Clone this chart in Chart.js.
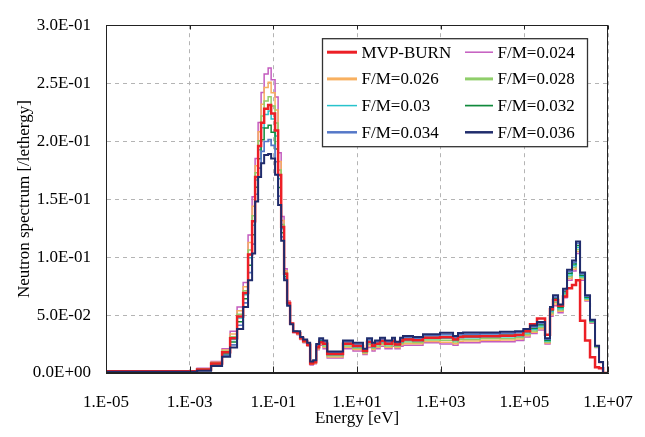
<!DOCTYPE html>
<html><head><meta charset="utf-8">
<script src="https://cdn.jsdelivr.net/npm/chart.js@4.4.1/dist/chart.umd.min.js"></script>
<style>html,body{margin:0;padding:0;background:#fff;}canvas{display:block;}</style>
</head><body>
<canvas id="c" width="645" height="437"></canvas>
<script>
// Energy group boundaries [eV] (lower edges of each group, last entry = top edge)
const energyEdges = [1e-5, 1.5e-3, 3.25e-3, 5.96e-3, 9.27e-3, 1.36e-2, 1.90e-2, 2.49e-2, 3.11e-2, 3.67e-2,
  4.33e-2, 5.10e-2, 6.03e-2, 7.52e-2, 8.86e-2, 0.110, 0.130, 0.154, 0.181, 0.214,
  0.252, 0.298, 0.371, 0.438, 0.516, 0.644, 0.759, 0.895, 1.06, 1.25,
  1.55, 1.94, 4.63, 8.03, 13.9, 17.4, 22.9, 27.0, 35.5, 46.8,
  68.7, 81.1, 107, 126, 218, 378, 966, 1977, 2600, 3428,
  8730, 2.62e4, 6.0e4, 9.47e4, 1.37e5, 2.01e5, 3.13e5, 4.11e5, 4.85e5, 6.40e5,
  8.42e5, 1.05e6, 1.38e6, 1.72e6, 2.15e6, 2.83e6, 3.72e6, 4.90e6, 6.11e6, 7.62e6, 1e7];

const seriesLabels = ['MVP-BURN', 'F/M=0.024', 'F/M=0.026', 'F/M=0.028', 'F/M=0.03', 'F/M=0.032', 'F/M=0.034', 'F/M=0.036'];

const mvpBurn = [0, .0016, .0031, .0083, .0180, .0300, .0488, .0690, .1022, .1309, .1691, .1958, .2158, .2279, .2312, .2238, .2092, .1707, .1260, .0857, .0603, .0426, .0354, .0343, .0299, .0273, .0243, .0083, .0093, .0222, .0266, .0252, .0163, .0252, .0232, .0190, .0268, .0232, .0252, .0275, .0252, .0275, .0246, .0275, .0288, .0282, .0304, .0308, .0288, .0311, .0314, .0318, .0321, .0328, .036, .042, .047, .033, .055, .063, .058, .066, .073, .076, .080, .045, .028, .0135, .005, .004];
const fm024 = [0, .002, .004, .010, .021, .036, .057, .078, .119, .152, .185, .216, .242, .258, .263, .253, .238, .190, .135, .090, .062, .043, .035, .033, .029, .026, .023, .007, .008, .020, .024, .021, .013, .021, .019, .016, .022, .019, .021, .023, .021, .023, .021, .023, .024, .024, .026, .025, .024, .026, .026, .027, .027, .028, .031, .034, .037, .025, .049, .058, .052, .065, .080, .088, .103, .080, .062, .043, .022, .009];
const fm026 = [0, .0018, .0037, .0093, .0198, .0337, .0538, .0745, .1125, .1438, .1788, .2082, .2318, .2463, .2507, .2417, .2268, .1825, .1315, .0883, .0613, .0428, .0352, .0335, .0293, .0265, .0235, .0075, .0085, .0208, .0250, .0222, .0139, .0222, .0202, .0168, .0233, .0202, .0222, .0243, .0222, .0243, .0220, .0243, .0253, .0252, .0272, .0266, .0253, .0274, .0275, .0283, .0284, .0293, .0322, .0352, .0382, .0258, .0503, .0595, .0532, .0663, .0815, .0895, .1048, .0811, .0628, .0435, .0223, .0091];
const fm028 = [0, .0017, .0033, .0087, .0187, .0313, .0507, .0710, .1060, .1357, .1727, .2003, .2217, .2347, .2383, .2303, .2157, .1750, .1280, .0867, .0607, .0427, .0353, .0340, .0297, .0270, .0240, .0080, .0090, .0217, .0260, .0233, .0148, .0233, .0213, .0177, .0247, .0213, .0233, .0255, .0233, .0255, .0230, .0255, .0267, .0263, .0285, .0282, .0267, .0288, .0290, .0297, .0298, .0307, .0333, .0363, .0393, .0267, .0517, .0610, .0543, .0675, .0830, .0910, .1065, .0822, .0637, .0440, .0225, .0092];
const fm030 = [0, .0015, .0030, .0080, .0175, .0290, .0475, .0675, .0995, .1275, .1665, .1925, .2115, .2230, .2260, .2190, .2045, .1675, .1245, .0850, .0600, .0425, .0355, .0345, .0300, .0275, .0245, .0085, .0095, .0225, .0270, .0245, .0158, .0245, .0225, .0185, .0260, .0225, .0245, .0268, .0245, .0268, .0240, .0268, .0280, .0275, .0297, .0299, .0280, .0303, .0305, .0310, .0313, .0320, .0345, .0375, .0405, .0275, .0530, .0625, .0555, .0688, .0845, .0925, .1083, .0833, .0645, .0445, .0228, .0093];
const fm032 = [0, .0013, .0027, .0073, .0163, .0267, .0443, .0640, .0930, .1193, .1603, .1847, .2013, .2113, .2137, .2077, .1933, .1600, .1210, .0833, .0593, .0423, .0357, .0350, .0303, .0280, .0250, .0090, .0100, .0233, .0280, .0257, .0167, .0257, .0237, .0193, .0273, .0237, .0257, .0280, .0257, .0280, .0250, .0280, .0293, .0287, .0309, .0315, .0293, .0317, .0320, .0323, .0327, .0333, .0357, .0387, .0417, .0283, .0543, .0640, .0567, .0701, .0860, .0940, .1100, .0844, .0653, .0450, .0230, .0093];
const fm034 = [0, .0012, .0023, .0067, .0152, .0243, .0412, .0605, .0865, .1112, .1542, .1768, .1912, .1997, .2013, .1963, .1822, .1525, .1175, .0817, .0587, .0422, .0358, .0355, .0307, .0285, .0255, .0095, .0105, .0242, .0290, .0268, .0176, .0268, .0248, .0202, .0287, .0248, .0268, .0293, .0268, .0293, .0260, .0293, .0307, .0298, .0322, .0331, .0307, .0331, .0335, .0337, .0341, .0347, .0368, .0398, .0428, .0292, .0557, .0655, .0578, .0713, .0875, .0955, .1118, .0855, .0662, .0455, .0233, .0094];
const fm036 = [0, .001, .002, .006, .014, .022, .038, .057, .080, .103, .148, .169, .181, .188, .189, .185, .171, .145, .114, .080, .058, .042, .036, .036, .031, .029, .026, .010, .011, .025, .030, .028, .0185, .028, .026, .021, .030, .026, .028, .0305, .028, .0305, .027, .0305, .032, .031, .0334, .0347, .032, .0345, .035, .035, .0355, .036, .038, .041, .044, .030, .057, .067, .059, .0726, .089, .097, .1135, .0866, .067, .046, .0235, .0095];

const xTickValues = [1e-5, 1e-3, 1e-1, 1e1, 1e3, 1e5, 1e7];
const xTickLabels = ['1.E-05', '1.E-03', '1.E-01', '1.E+01', '1.E+03', '1.E+05', '1.E+07'];
const yTickValues = [0, 0.05, 0.1, 0.15, 0.2, 0.25, 0.3];
const yTickLabels = ['0.0E+00', '5.0E-02', '1.0E-01', '1.5E-01', '2.0E-01', '2.5E-01', '3.0E-01'];

const seriesValues = [mvpBurn, fm024, fm026, fm028, fm030, fm032, fm034, fm036];
seriesValues.forEach((s, i) => { if (s.length !== energyEdges.length - 1) throw new Error('length mismatch in series ' + i + ': ' + s.length); });

// styles
const colors = ['#ec1f26', '#c45cbf', '#f8b060', '#8fce6a', '#27c3cc', '#108a3c', '#5578c8', '#202c6c'];
const widths = [2.5, 1.5, 1.5, 1.5, 1.5, 1.5, 1.7, 2];
const legendWidths = [3, 1.5, 3, 3, 1.5, 1.7, 2.5, 2.5];
const drawOrder = [1, 8, 7, 6, 5, 4, 3, 0];

const FONT = "'Liberation Serif', 'Times New Roman', serif";

const datasets = seriesValues.map((vals, i) => ({
  label: seriesLabels[i],
  data: energyEdges.map((e, j) => ({ x: e, y: j < vals.length ? vals[j] : 0 })),
  stepped: 'after',
  borderColor: colors[i],
  backgroundColor: colors[i],
  borderWidth: widths[i],
  pointRadius: 0,
  fill: false,
  order: drawOrder[i]
}));

const framePlugin = {
  id: 'frame',
  afterDatasetsDraw(chart) {
    const { ctx, chartArea: a } = chart;
    const xs = chart.scales.x;
    ctx.save();
    ctx.strokeStyle = '#222';
    ctx.lineWidth = 1;
    const L = Math.round(a.left) + 0.5, R = Math.round(a.right) - 0.5, T = Math.round(a.top) + 0.5, B = Math.round(a.bottom) - 0.5;
    ctx.strokeRect(L, T, R - L, B - T);
    ctx.beginPath();
    xTickValues.forEach(v => {
      const px = Math.round(xs.getPixelForValue(v)) + 0.5;
      ctx.moveTo(px, B); ctx.lineTo(px, B - 6);
      ctx.moveTo(px, T); ctx.lineTo(px, T + 4);
    });
    ctx.stroke();
    ctx.restore();
  }
};

const legendPlugin = {
  id: 'boxLegend',
  afterDraw(chart) {
    const { ctx, chartArea: a } = chart;
    const bx = a.left + 216.5, by = a.top + 13.5, bw = 265, bh = 108;
    ctx.save();
    ctx.fillStyle = '#ffffff';
    ctx.fillRect(bx, by, bw, bh);
    ctx.strokeStyle = '#333';
    ctx.lineWidth = 1.3;
    ctx.strokeRect(bx, by, bw, bh);
    ctx.font = '17px ' + FONT;
    ctx.textBaseline = 'middle';
    ctx.textAlign = 'left';
    const cols = [{ x0: bx + 4.5, x1: bx + 34.5, tx: bx + 39 }, { x0: bx + 142.5, x1: bx + 170.5, tx: bx + 175 }];
    seriesLabels.forEach((lab, i) => {
      const row = Math.floor(i / 2), col = cols[i % 2];
      const y = by + 13.5 + row * 26.7;
      ctx.strokeStyle = colors[i];
      ctx.lineWidth = legendWidths[i];
      ctx.beginPath(); ctx.moveTo(col.x0, y); ctx.lineTo(col.x1, y); ctx.stroke();
      ctx.fillStyle = '#000';
      ctx.fillText(lab, col.tx, y + 1);
    });
    ctx.restore();
  }
};

new Chart(document.getElementById('c'), {
  type: 'line',
  data: { datasets },
  options: {
    responsive: false,
    animation: false,
    events: [],
    layout: { padding: { top: 16, right: 37, left: 0, bottom: 0 } },
    plugins: { legend: { display: false }, tooltip: { enabled: false } },
    scales: {
      x: {
        type: 'logarithmic',
        min: 1e-5, max: 1e7,
        afterBuildTicks: s => { s.ticks = xTickValues.map(v => ({ value: v })); },
        afterFit: s => { s.height = 64; },
        ticks: {
          autoSkip: false, maxRotation: 0, minRotation: 0, padding: 0,
          color: '#000', font: { family: FONT, size: 17 },
          callback: (v, i) => xTickLabels[i]
        },
        grid: { color: '#b4b4b4', drawTicks: true, tickLength: 19, tickColor: 'rgba(0,0,0,0)', lineWidth: 1 },
        border: { color: '#222', dash: [4, 4], display: true },
        title: { display: true, text: 'Energy [eV]', color: '#000', font: { family: FONT, size: 17 }, padding: { top: 0, bottom: 8 } }
      },
      y: {
        min: 0, max: 0.3,
        afterBuildTicks: s => { s.ticks = yTickValues.map(v => ({ value: v })); },
        afterFit: s => { s.width = 106; },
        ticks: {
          padding: 15, color: '#000', font: { family: FONT, size: 17 },
          callback: (v, i) => yTickLabels[i]
        },
        grid: { color: '#b4b4b4', drawTicks: false, lineWidth: 1 },
        border: { color: '#222', dash: [4, 4], display: true },
        title: { display: true, text: 'Neutron spectrum [/lethergy]', color: '#000', font: { family: FONT, size: 17 }, padding: { top: 14, bottom: 0 } }
      }
    }
  },
  plugins: [framePlugin, legendPlugin]
});
</script>
</body></html>
